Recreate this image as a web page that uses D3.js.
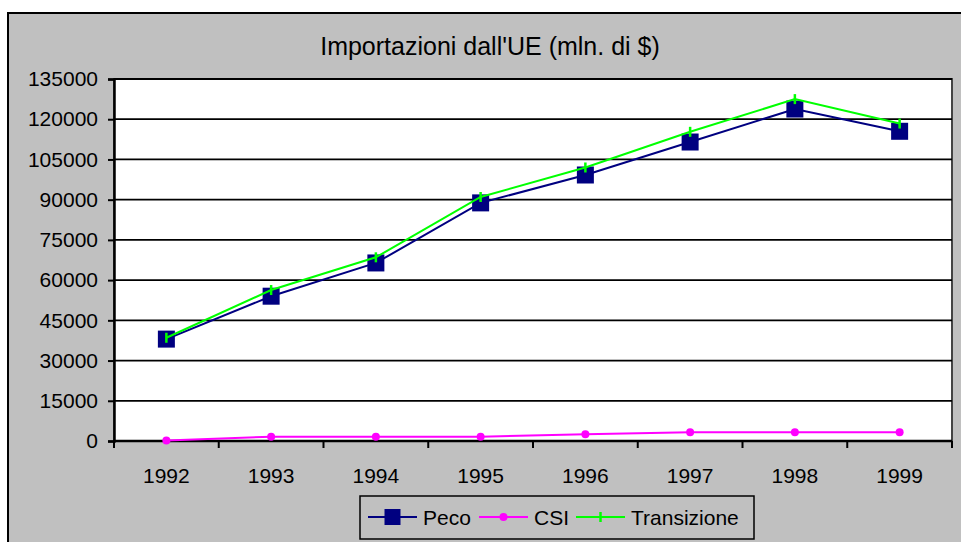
<!DOCTYPE html>
<html>
<head>
<meta charset="utf-8">
<script src="https://cdn.jsdelivr.net/npm/d3@7"></script>
<style>
  html, body { margin: 0; padding: 0; background: #fff; }
  svg { display: block; font-family: "Liberation Sans", Arial, sans-serif; }
</style>
</head>
<body>
<div id="chart"></div>
<script>
// Data
var years = ["1992", "1993", "1994", "1995", "1996", "1997", "1998", "1999"];
var peco = [38000, 54000, 66400, 88800, 99200, 111500, 123800, 115500];
var csi = [200, 1600, 1600, 1600, 2500, 3250, 3250, 3250];
var transizione = [38500, 56300, 68500, 91000, 102000, 115300, 127500, 118400];
var yTicks = [0, 15000, 30000, 45000, 60000, 75000, 90000, 105000, 120000, 135000];

var width = 961, height = 542;

var svg = d3.select("#chart").append("svg")
  .attr("width", width)
  .attr("height", height);

// chart frame (runs off the right and bottom of the window)
svg.append("rect")
  .attr("x", 8).attr("y", 13)
  .attr("width", 980).attr("height", 560)
  .attr("fill", "#c0c0c0")
  .attr("stroke", "#000")
  .attr("stroke-width", 2);

var plot = { left: 114, top: 79, right: 952, bottom: 441 };

var x = d3.scaleBand().domain(years).range([plot.left, plot.right]);
var y = d3.scaleLinear().domain([0, 135000]).range([plot.bottom, plot.top]);

svg.append("rect")
  .attr("x", plot.left).attr("y", plot.top)
  .attr("width", plot.right - plot.left)
  .attr("height", plot.bottom - plot.top)
  .attr("fill", "#fff")
  .attr("stroke", "#444")
  .attr("stroke-width", 2);

// gridlines
svg.append("g")
  .selectAll("line")
  .data(yTicks.filter(function (d) { return d > 0; }))
  .enter().append("line")
    .attr("x1", plot.left).attr("x2", plot.right)
    .attr("y1", function (d) { return y(d); })
    .attr("y2", function (d) { return y(d); })
    .attr("stroke", "#000")
    .attr("stroke-width", 1.8);

// y axis
var yAxis = d3.axisLeft(y).tickValues(yTicks).tickSize(6).tickPadding(10).tickFormat(d3.format("d"));
var gy = svg.append("g").attr("transform", "translate(" + plot.left + ",0)").call(yAxis);
gy.attr("font-size", 21).attr("font-family", "Liberation Sans, Arial, sans-serif");
gy.select(".domain").attr("stroke", "#000").attr("stroke-width", 2.5);
gy.selectAll(".tick line").attr("stroke", "#000").attr("stroke-width", 2);
gy.selectAll("text").attr("fill", "#000");

// x axis: ticks between categories
var gx = svg.append("g").attr("transform", "translate(0," + plot.bottom + ")");
gx.append("line")
  .attr("x1", plot.left).attr("x2", plot.right)
  .attr("stroke", "#000").attr("stroke-width", 2.5);
var bounds = years.map(function (d) { return x(d); }).concat([plot.right]);
gx.selectAll(".tk").data(bounds).enter().append("line")
  .attr("x1", function (d) { return d; }).attr("x2", function (d) { return d; })
  .attr("y1", 0).attr("y2", 7)
  .attr("stroke", "#000").attr("stroke-width", 2);
gx.selectAll("text").data(years).enter().append("text")
  .attr("x", function (d) { return x(d) + x.bandwidth() / 2; })
  .attr("y", 42)
  .attr("text-anchor", "middle")
  .attr("font-size", 21)
  .text(function (d) { return d; });

// title
svg.append("text")
  .attr("x", 490).attr("y", 55)
  .attr("text-anchor", "middle")
  .attr("font-size", 25)
  .text("Importazioni dall'UE (mln. di $)");

function cx(d, i) { return x(years[i]) + x.bandwidth() / 2; }

var line = d3.line()
  .x(function (d, i) { return cx(d, i); })
  .y(function (d) { return y(d); });

// Peco
svg.append("path").datum(peco)
  .attr("d", line).attr("fill", "none")
  .attr("stroke", "#000080").attr("stroke-width", 2);
svg.selectAll(".peco").data(peco).enter().append("rect")
  .attr("x", function (d, i) { return cx(d, i) - 8.5; })
  .attr("y", function (d) { return y(d) - 8.5; })
  .attr("width", 17).attr("height", 17)
  .attr("fill", "#000080");

// CSI
svg.append("path").datum(csi)
  .attr("d", line).attr("fill", "none")
  .attr("stroke", "#ff00ff").attr("stroke-width", 2);
svg.selectAll(".csi").data(csi).enter().append("circle")
  .attr("cx", function (d, i) { return cx(d, i); })
  .attr("cy", function (d) { return y(d); })
  .attr("r", 4)
  .attr("fill", "#ff00ff");

// Transizione
svg.append("path").datum(transizione)
  .attr("d", line).attr("fill", "none")
  .attr("stroke", "#00ff00").attr("stroke-width", 2);
svg.selectAll(".tr").data(transizione).enter().append("line")
  .attr("x1", function (d, i) { return cx(d, i); })
  .attr("x2", function (d, i) { return cx(d, i); })
  .attr("y1", function (d) { return y(d) - 5; })
  .attr("y2", function (d) { return y(d) + 5; })
  .attr("stroke", "#00ff00").attr("stroke-width", 2.5);

// legend
var lg = svg.append("g");
lg.append("rect")
  .attr("x", 360).attr("y", 496).attr("width", 394).attr("height", 43)
  .attr("fill", "#c0c0c0").attr("stroke", "#000").attr("stroke-width", 1.5);

var ly = 517;
var items = [
  { name: "Peco", color: "#000080", x0: 368, tx: 423, marker: "square" },
  { name: "CSI", color: "#ff00ff", x0: 479, tx: 534, marker: "circle" },
  { name: "Transizione", color: "#00ff00", x0: 576, tx: 631, marker: "plus" }
];
items.forEach(function (it) {
  lg.append("line")
    .attr("x1", it.x0).attr("x2", it.x0 + 49)
    .attr("y1", ly).attr("y2", ly)
    .attr("stroke", it.color).attr("stroke-width", 2);
  var mx = it.x0 + 24.5;
  if (it.marker === "square") {
    lg.append("rect").attr("x", mx - 8).attr("y", ly - 8)
      .attr("width", 16).attr("height", 16).attr("fill", it.color);
  } else if (it.marker === "circle") {
    lg.append("circle").attr("cx", mx).attr("cy", ly).attr("r", 4).attr("fill", it.color);
  } else {
    lg.append("line").attr("x1", mx).attr("x2", mx)
      .attr("y1", ly - 5).attr("y2", ly + 5)
      .attr("stroke", it.color).attr("stroke-width", 2.5);
  }
  lg.append("text")
    .attr("x", it.tx).attr("y", ly + 7.5)
    .attr("font-size", 21)
    .text(it.name);
});
</script>
</body>
</html>
